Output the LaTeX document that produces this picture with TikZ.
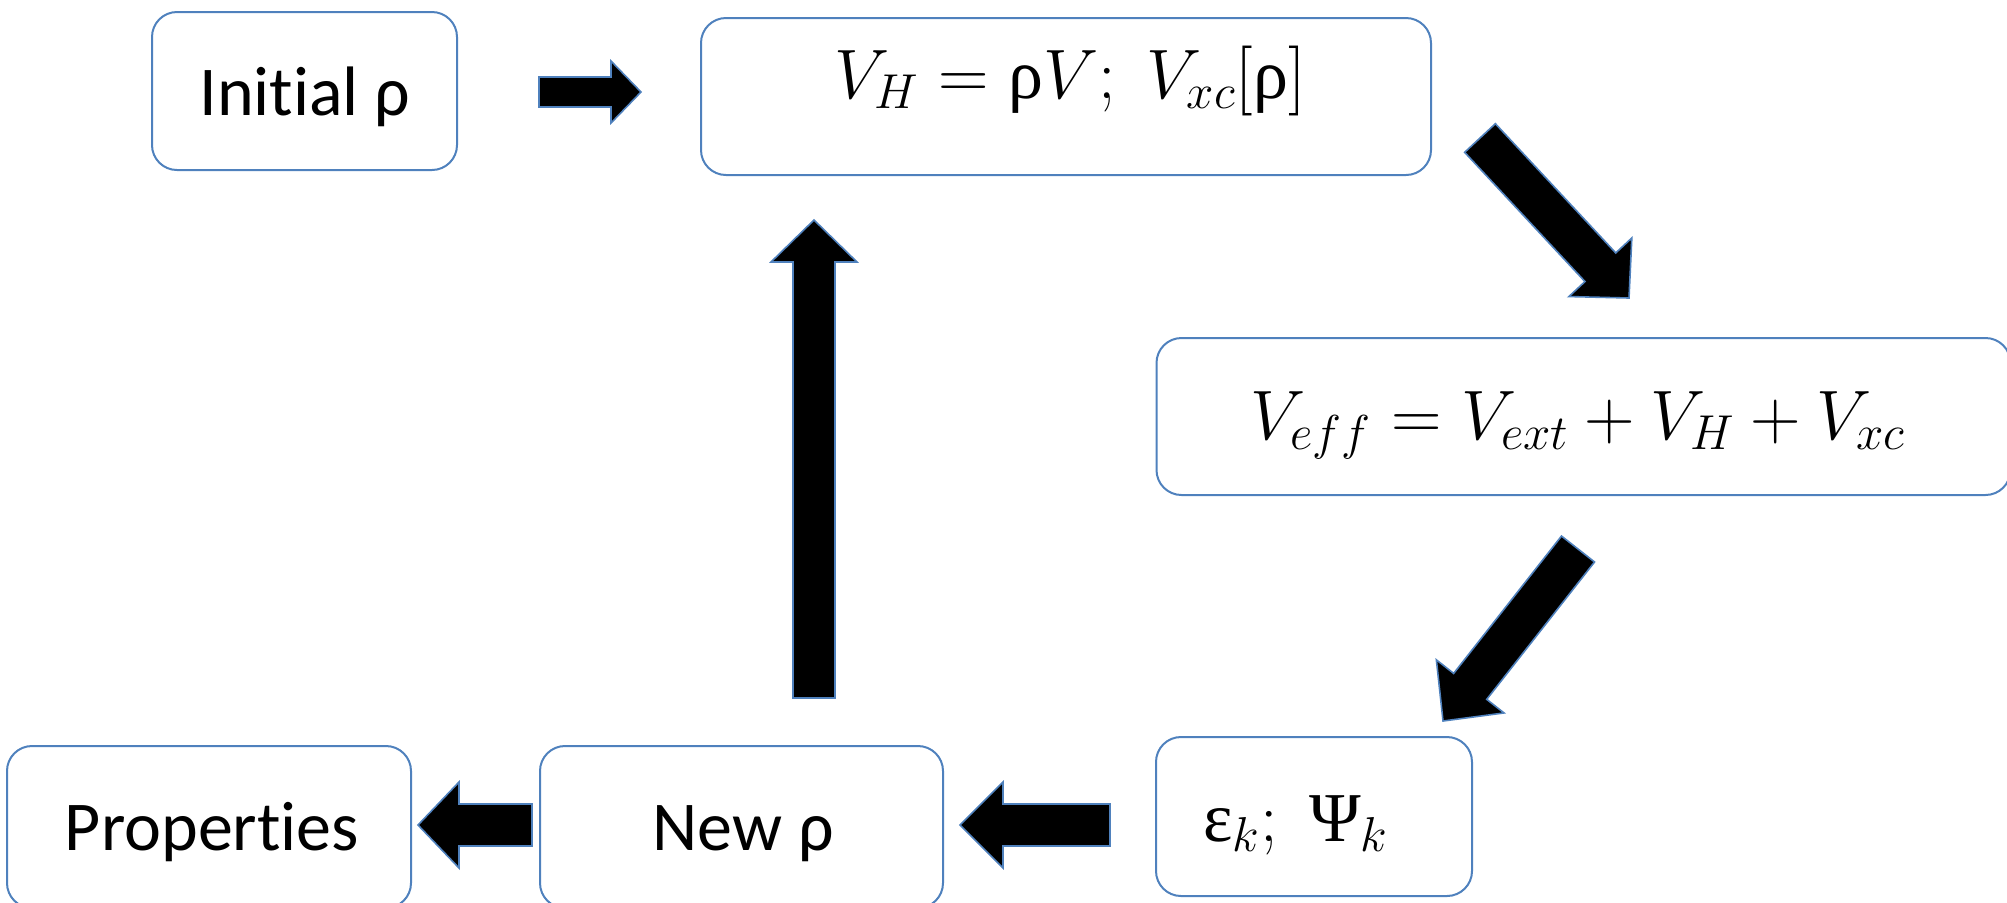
\RequirePackage{fix-cm}
\documentclass[tikz,border=0pt]{standalone}
\usepackage{fontspec}
\setmainfont{Carlito}[Ligatures={NoCommon,NoContextual}]
\newfontfamily\grk{Liberation Serif}
\usetikzlibrary{calc}
\definecolor{boxblue}{HTML}{4F81BD}
\newcommand{\gr}[1]{\hbox{\grk #1}}
\tikzset{
  box/.style={draw=boxblue, line width=1pt, rounded corners=12.5pt, inner sep=0pt},
  txt/.style={anchor=base, inner sep=0pt, font=\fontsize{35}{42}\selectfont},
  blockarr/.style={fill=black, draw=boxblue, line width=0.8pt, line join=miter},
}
% #1 tail, #2 tip, #3 shaft half-width (px), #4 head half-width (px), #5 head length (px)
\newcommand{\blockarrow}[5]{%
  \filldraw[blockarr] let \p1=(#1), \p2=(#2),
    \n1={atan2(\y2-\y1,\x2-\x1)},
    \n2={veclen(\x2-\x1,\y2-\y1)-#5*0.5pt},
    \n3={#3*0.5pt}, \n4={#4*0.5pt} in
    ($(\p1)+(\n1+90:\n3)$) --
    ($(\p1)+(\n1:\n2)+(\n1+90:\n3)$) --
    ($(\p1)+(\n1:\n2)+(\n1+90:\n4)$) --
    (\p2) --
    ($(\p1)+(\n1:\n2)+(\n1-90:\n4)$) --
    ($(\p1)+(\n1:\n2)+(\n1-90:\n3)$) --
    ($(\p1)+(\n1-90:\n3)$) -- cycle;
}
\begin{document}
\begin{tikzpicture}[x=0.5pt, y=-0.5pt]
\useasboundingbox (0,0) rectangle (2007,902);
% boxes
\node[box, minimum width=152.5pt, minimum height=79pt] (init) at (304.5,91) {};
\node[box, minimum width=365pt, minimum height=78.5pt] (vh) at (1066,96.5) {};
\node[box, minimum width=427pt, minimum height=78.5pt] (veff) at (1583.5,416.5) {};
\node[box, minimum width=158pt, minimum height=79.5pt] (eps) at (1314,816.5) {};
\node[box, minimum width=201.5pt, minimum height=81pt] (newrho) at (741.5,827) {};
\node[box, minimum width=202pt, minimum height=81pt] (props) at (209,827) {};
% texts
\node[txt] (init-t) at (305,115) {Initial ρ};
\node[txt] (vh-t) at (1070,98) {$V_H = \gr{ρ}V;\; V_{xc}[\gr{ρ}]$};
\node[txt] (veff-t) at (1578,439) {$V_{eff} = V_{ext} + V_H + V_{xc}$};
\node[txt] (eps-t) at (1296,841) {$\gr{ε}_k;\; \gr{Ψ}_k$};
\node[txt] (newrho-t) at (743,850) {New ρ};
\node[txt] (props-t) at (212,850) {Properties};
% arrow end points
\coordinate (a1) at (539,92);   \coordinate (a2) at (641,92);
\coordinate (b1) at (1480,138); \coordinate (b2) at (1629,298);
\coordinate (c1) at (1578,549); \coordinate (c2) at (1443,721);
\coordinate (d1) at (1110,825); \coordinate (d2) at (960,825);
\coordinate (e1) at (532,825);  \coordinate (e2) at (418,825);
\coordinate (f1) at (814,698);  \coordinate (f2) at (814,220);
% block arrows
\blockarrow{a1}{a2}{15}{31}{30}
\blockarrow{b1}{b2}{21}{43}{42}
\blockarrow{c1}{c2}{21}{43}{44}
\blockarrow{d1}{d2}{21}{43}{43}
\blockarrow{e1}{e2}{21}{43}{41}
\blockarrow{f1}{f2}{21}{43}{42}
\end{tikzpicture}
\end{document}
